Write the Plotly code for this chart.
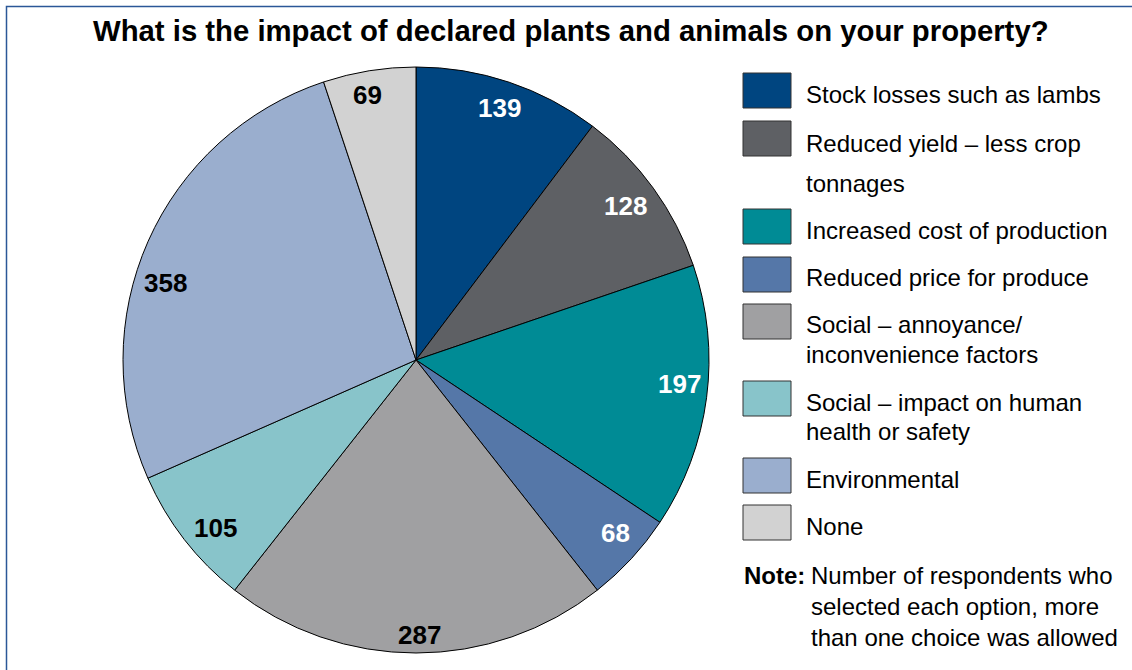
import math
import plotly.graph_objects as go

# ---- data ----
categories = [
    "Stock losses such as lambs",
    "Reduced yield – less crop\ntonnages",
    "Increased cost of production",
    "Reduced price for produce",
    "Social – annoyance/\ninconvenience factors",
    "Social – impact on human\nhealth or safety",
    "Environmental",
    "None",
]
values = [139, 128, 197, 68, 287, 105, 358, 69]
title_text = "What is the impact of declared plants and animals on your property?"
note_head = "Note:"
note_lines = ["Number of respondents who", "selected each option, more", "than one choice was allowed"]

# ---- style ----
colors = ["#004580", "#5e6064", "#008b95", "#5577a8", "#a0a0a2", "#88c4ca", "#9aaece", "#d2d2d2"]
label_colors = ["white", "white", "white", "white", "black", "black", "black", "black"]
# label placement tweaks: angular offset (deg) from slice bisector and radius (px)
label_angle_offset = [-0.3, -0.4, -2.1, -1.7, -0.8, -2.2, -6.8, -1.2]
label_radius = [265.8, 260.4, 265.1, 263.7, 275, 261.6, 262.5, 269]
W, H = 1132, 670
CX, CY, R = 416, 360, 293
FONT = "Liberation Sans, Arial, sans-serif"

# legend layout (pixels)
sw_x0, sw_x1 = 743, 791
sw_tops = [73, 121, 209, 257, 304, 381, 458, 505]
sw_h = 35
text_x = 804
line_ys = [[95], [143, 183], [230], [277], [325, 354], [402, 431], [479], [526]]
note_ys = [575, 606, 637]


def px(x):
    return x / W


def py(y):
    return 1 - y / H


fig = go.Figure()
fig.add_trace(go.Pie(
    labels=[c.replace("\n", " ") for c in categories],
    values=values,
    sort=False,
    direction="clockwise",
    rotation=0,
    marker=dict(colors=colors, line=dict(color="black", width=1)),
    textinfo="none",
    hoverinfo="label+value",
    showlegend=False,
    domain=dict(x=[px(CX - R), px(CX + R)], y=[py(CY + R), py(CY - R)]),
))

annotations = []
shapes = []

# slice value labels, placed along each slice's bisector
total = sum(values)
cum = 0
for v, col, da, rr in zip(values, label_colors, label_angle_offset, label_radius):
    mid = (cum + v / 2) / total * 360 + da
    cum += v
    a = math.radians(mid)
    lx = CX + rr * math.sin(a)
    ly = CY - rr * math.cos(a)
    annotations.append(dict(
        x=px(lx), y=py(ly), xref="paper", yref="paper", text=f"<b>{v}</b>",
        showarrow=False, font=dict(family=FONT, size=26, color=col),
        xanchor="center", yanchor="middle"))

# title
annotations.append(dict(
    x=px(570.5), y=py(30), xref="paper", yref="paper", text=f"<b>{title_text}</b>",
    showarrow=False, font=dict(family=FONT, size=29.3, color="black"),
    xanchor="center", yanchor="middle"))

# custom legend
for cat, col, top, ys in zip(categories, colors, sw_tops, line_ys):
    shapes.append(dict(type="rect", xref="paper", yref="paper",
                       x0=px(sw_x0), x1=px(sw_x1), y0=py(top + sw_h), y1=py(top),
                       fillcolor=col, line=dict(color="#333333", width=1)))
    for line, yy in zip(cat.split("\n"), ys):
        annotations.append(dict(
            x=px(text_x), y=py(yy), xref="paper", yref="paper", text=line,
            showarrow=False, font=dict(family=FONT, size=24, color="black"),
            xanchor="left", yanchor="middle"))

# note
annotations.append(dict(
    x=px(742), y=py(note_ys[0]), xref="paper", yref="paper", text=f"<b>{note_head}</b>",
    showarrow=False, font=dict(family=FONT, size=24, color="black"),
    xanchor="left", yanchor="middle"))
for line, yy in zip(note_lines, note_ys):
    annotations.append(dict(
        x=px(809), y=py(yy), xref="paper", yref="paper", text=line,
        showarrow=False, font=dict(family=FONT, size=24, color="black"),
        xanchor="left", yanchor="middle"))

# outer frame (left and top edges visible)
shapes.append(dict(type="rect", xref="paper", yref="paper",
                   x0=px(6.5), x1=1.05, y0=-0.05, y1=py(6.5),
                   line=dict(color="#2b5797", width=1.5), fillcolor="rgba(0,0,0,0)"))

fig.update_layout(
    width=W, height=H,
    margin=dict(l=0, r=0, t=0, b=0),
    paper_bgcolor="white",
    plot_bgcolor="white",
    annotations=annotations,
    shapes=shapes,
    font=dict(family=FONT),
)

fig.write_html("out.html")
